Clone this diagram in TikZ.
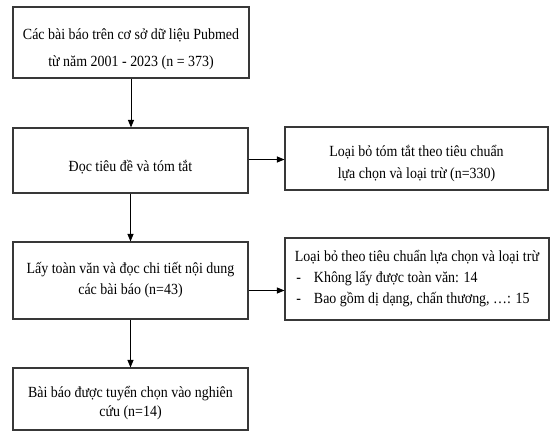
\documentclass[tikz,border=0pt]{standalone}
\usepackage{fontspec}
\setmainfont{Liberation Serif}[FakeStretch=0.9]
\usetikzlibrary{arrows.meta}
\newcommand\pushdn[1]{\rule{0pt}{#1pt}}
\begin{document}
\begin{tikzpicture}[x=1pt,y=-1pt,
  box/.style={draw=black!78, line width=1.1pt, rectangle, inner sep=0pt,
    align=center, font=\fontsize{15.5}{#1}\selectfont, anchor=center},
  box/.default=21,
  arr/.style={draw=black, line width=0.9pt, -{Triangle[length=7.5pt,width=6pt]}}]
\useasboundingbox (0,0) rectangle (550,431);
\node[box=27, minimum width=236, minimum height=71] (b1) at (131,42.5)
  {\pushdn{24}Các bài báo trên cơ sở dữ liệu Pubmed\\từ năm 2001 - 2023 (n = 373)};
\node[box, minimum width=235, minimum height=65] (b2) at (130.5,160.5)
  {\pushdn{24}Đọc tiêu đề và tóm tắt};
\node[box=22, minimum width=263, minimum height=63] (b3) at (416.5,158.5)
  {\pushdn{21}Loại bỏ tóm tắt theo tiêu chuẩn\\lựa chọn và loại trừ (n=330)};
\node[box=21, minimum width=235, minimum height=77] (b4) at (130.5,280.5)
  {Lấy toàn văn và đọc chi tiết nội dung\\các bài báo (n=43)};
\node[box=21, align=left, minimum width=264, minimum height=82] (b5) at (417,279)
  {Loại bỏ theo tiêu chuẩn lựa chọn và loại trừ\\
   \makebox[19pt][l]{\hspace*{1.5pt}-}Không lấy được toàn văn: 14\\
   \makebox[19pt][l]{\hspace*{1.5pt}-}Bao gồm dị dạng, chấn thương, …: 15};
\node[box=19, minimum width=235, minimum height=62] (b6) at (130.5,399)
  {\pushdn{19}Bài báo được tuyển chọn vào nghiên\\cứu (n=14)};
\draw[arr] (b1.south) -- (b1.south |- b2.north);
\draw[arr] (b2.south) -- (b4.north);
\draw[arr] (b4.south) -- (b6.north);
\draw[arr] ([yshift=1pt]b2.east) -- ([yshift=1pt]b2.east -| b3.west);
\draw[arr] ([yshift=-10pt]b4.east) -- ([yshift=-10pt]b4.east -| b5.west);
\end{tikzpicture}
\end{document}
